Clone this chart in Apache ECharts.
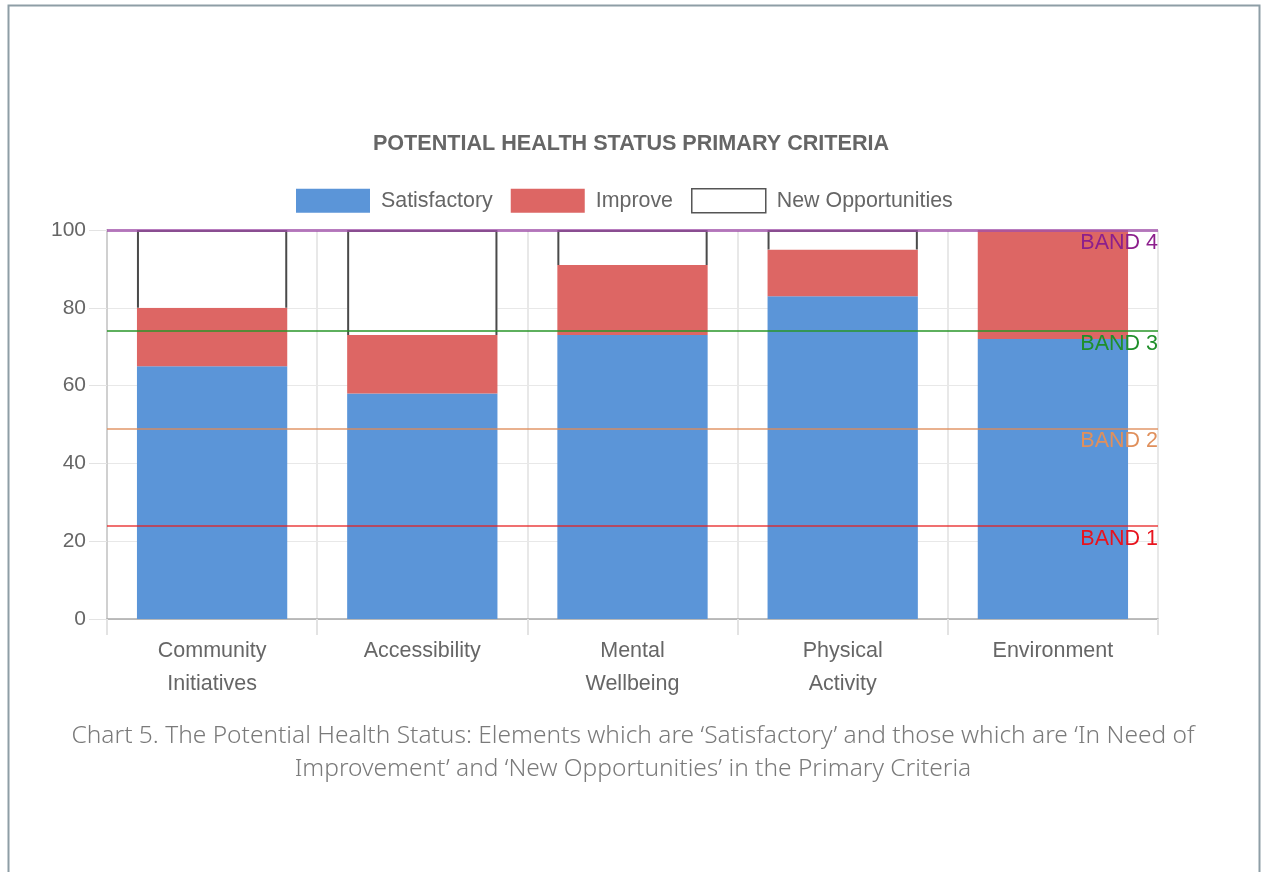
<!DOCTYPE html>
<html>
<head>
<meta charset="utf-8">
<title>Potential Health Status Primary Criteria</title>
<script src="https://cdn.jsdelivr.net/npm/echarts@6/dist/echarts.min.js"></script>
<style>
  html, body { margin: 0; padding: 0; background: #ffffff; }
  #chart { width: 1262px; height: 872px; }
</style>
</head>
<body>
<div id="chart"></div>
<script>
// Categories and stacked values (percent)
const categories = ['Community\nInitiatives', 'Accessibility', 'Mental\nWellbeing', 'Physical\nActivity', 'Environment'];
const satisfactory = [65, 58, 73, 83, 72];
const improve = [15, 15, 18, 12, 28];
const newOpportunities = [20, 27, 9, 5, 0];

// Reference band levels
const bandNames = ['BAND 1', 'BAND 2', 'BAND 3', 'BAND 4'];
const bandLevels = [24, 49, 74, 100];
const bandLineColors = ['rgba(230,30,30,0.85)', 'rgba(222,140,90,0.9)', 'rgba(40,150,40,0.75)', 'rgba(160,80,170,0.75)'];
const bandLabelColors = ['#e8141e', '#e0905c', '#1f8f2a', '#8c1f8c'];
const bandLineWidths = [1.5, 1.5, 2, 3];

const yTicks = { min: 0, max: 100, interval: 20 };

const FONT = '"Liberation Sans", Arial, Helvetica, sans-serif';
const TEXT_GREY = '#666666';

const chart = echarts.init(document.getElementById('chart'), null, { renderer: 'canvas' });

// Base (top of the stacked coloured segments) for the outlined segment
const newOppData = newOpportunities.map((v, i) => [i, satisfactory[i] + improve[i], v]);

const bandMarkData = bandLevels.map((lvl, i) => ({
  yAxis: lvl,
  lineStyle: { color: bandLineColors[i], width: bandLineWidths[i], type: 'solid' },
  label: {
    show: true,
    formatter: bandNames[i],
    position: 'insideEndBottom',
    color: bandLabelColors[i],
    fontFamily: FONT,
    fontSize: 21.5,
    distance: [0, 2]
  }
}));

const option = {
  animation: false,
  backgroundColor: '#ffffff',
  title: {
    text: 'POTENTIAL HEALTH STATUS PRIMARY CRITERIA',
    left: 'center',
    top: 128,
    textStyle: { fontFamily: FONT, fontSize: 21.6, fontWeight: 'bold', color: TEXT_GREY }
  },
  legend: {
    top: 183,
    left: 291,
    itemWidth: 74,
    itemHeight: 24,
    itemGap: 18,
    icon: 'rect',
    textStyle: { fontFamily: FONT, fontSize: 21.4, color: TEXT_GREY, padding: [0, 0, 0, 6] },
    data: [
      { name: 'Satisfactory' },
      { name: 'Improve' },
      { name: 'New Opportunities', itemStyle: { color: '#ffffff', borderColor: '#555555', borderWidth: 1.5 } }
    ]
  },
  grid: { left: 107, right: 104, top: 230, bottom: 253, containLabel: false },
  xAxis: {
    type: 'category',
    data: categories,
    boundaryGap: true,
    axisLine: { show: true, lineStyle: { color: '#a8a8a8', width: 1.5 } },
    axisTick: { show: true, length: 16, lineStyle: { color: '#e3e3e3', width: 2 } },
    splitLine: { show: true, lineStyle: { color: '#e8e8e8', width: 2 } },
    axisLabel: {
      fontFamily: FONT, fontSize: 21.5, color: TEXT_GREY, lineHeight: 33, margin: 16,
      interval: 0
    }
  },
  yAxis: {
    type: 'value',
    min: yTicks.min,
    max: yTicks.max,
    interval: yTicks.interval,
    axisLine: { show: true, lineStyle: { color: '#d0d0d0', width: 2 } },
    axisTick: { show: true, length: 18, lineStyle: { color: '#e3e3e3', width: 1 } },
    splitLine: { show: true, lineStyle: { color: '#e8e8e8', width: 1 } },
    axisLabel: { fontFamily: FONT, fontSize: 21, color: TEXT_GREY, margin: 21 }
  },
  series: [
    {
      name: 'Satisfactory',
      type: 'bar',
      stack: 'status',
      barWidth: '71.5%',
      data: satisfactory,
      itemStyle: { color: '#5b95d8' },
      z: 2
    },
    {
      name: 'Improve',
      type: 'bar',
      stack: 'status',
      barWidth: '71.5%',
      data: improve,
      itemStyle: { color: '#dd6664' },
      z: 2,
      markLine: {
        symbol: 'none',
        silent: true,
        z: 5,
        data: bandMarkData
      }
    },
    {
      name: 'New Opportunities',
      type: 'custom',
      data: newOppData,
      encode: { x: 0, y: 2 },
      itemStyle: { color: '#ffffff', borderColor: '#555555' },
      z: 3,
      renderItem: function (params, api) {
        const idx = api.value(0);
        const base = api.value(1);
        const val = api.value(2);
        if (!val) return null;
        const bottom = api.coord([idx, base]);
        const top = api.coord([idx, base + val]);
        const w = api.size([1, 0])[0] * 0.715;
        const x0 = bottom[0] - w / 2;
        const x1 = bottom[0] + w / 2;
        return {
          type: 'group',
          children: [
            {
              type: 'rect',
              shape: { x: x0, y: top[1], width: w, height: bottom[1] - top[1] },
              style: { fill: '#ffffff' }
            },
            {
              type: 'polyline',
              shape: { points: [[x0 + 1, bottom[1]], [x0 + 1, top[1] + 1], [x1 - 1, top[1] + 1], [x1 - 1, bottom[1]]] },
              style: { stroke: '#4a4a4a', lineWidth: 2, fill: null }
            }
          ]
        };
      }
    }
  ],
  graphic: [
    {
      type: 'rect',
      silent: true,
      shape: { x: 8.5, y: 5.5, width: 1251, height: 900 },
      style: { fill: null, stroke: '#8e9ea6', lineWidth: 2 }
    },
    {
      type: 'text',
      x: 633,
      y: 720,
      silent: true,
      style: {
        text: 'Chart 5. The Potential Health Status: Elements which are ‘Satisfactory’ and those which are ‘In Need of\nImprovement’ and ‘New Opportunities’ in the Primary Criteria',
        fontFamily: '"Noto Sans", "Open Sans", sans-serif',
        fontWeight: 300,
        fontSize: 24.5,
        lineHeight: 33,
        align: 'center',
        verticalAlign: 'top',
        fill: '#7a7a7a'
      }
    }
  ]
};

chart.setOption(option);
</script>
</body>
</html>
